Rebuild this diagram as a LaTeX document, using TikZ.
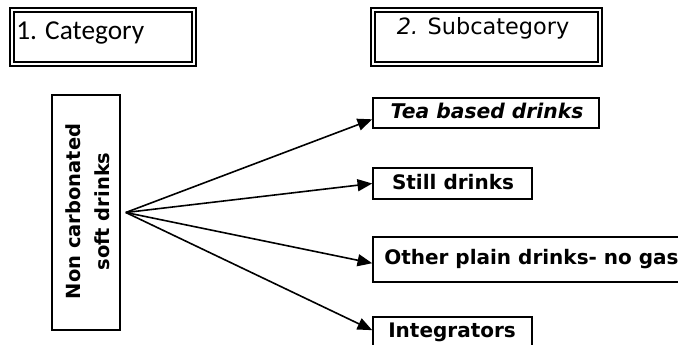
\documentclass[tikz,border=0pt]{standalone}
\usepackage{fontspec}
\setmainfont{DejaVu Sans}
\newfontfamily\calibri{Carlito}
\usetikzlibrary{arrows.meta,calc}

\begin{document}
\begin{tikzpicture}[x=0.75pt,y=-0.75pt,
  dbox/.style={draw, line width=1.3pt, double, double distance=2.2pt, inner sep=0pt},
  sbox/.style={draw, line width=1.2pt, inner sep=0pt},
  lbl/.style={inner sep=0pt, font=\fontsize{15}{18}\selectfont\bfseries},
  link/.style={line width=1.2pt, -{Triangle[length=11pt,width=9pt]}}
]
\useasboundingbox (0,0) rectangle (678,345);
\clip (0,0) rectangle (678,345);

% column headings
\node[dbox, minimum width=182*0.75pt, minimum height=54*0.75pt] (cat) at (103,37) {};
\node[anchor=base west, inner sep=0pt, font=\calibri\fontsize{20.5}{24}\selectfont] (cattext) at (16,40) {1. Category};
\node[dbox, minimum width=227*0.75pt, minimum height=54*0.75pt] (sub) at (486.5,37) {};
\node[anchor=base, inner sep=0pt, font=\fontsize{16.8}{20}\selectfont] (subtext) at (483,35) {\textit{2.} Subcategory};

% category box
\node[sbox, minimum width=68*0.75pt, minimum height=235*0.75pt] (ncsd) at (86,212.5) {};
\node[rotate=90, align=center, inner sep=0pt, font=\fontsize{14.6}{21.75}\selectfont\bfseries] (ncsdtext) at (87.5,211.5) {Non carbonated\\soft drinks};

% subcategory boxes
\node[sbox, minimum width=226*0.75pt, minimum height=30*0.75pt] (tea) at (486,113) {};
\node[lbl, anchor=base, font=\fontsize{15.2}{18}\selectfont\bfseries\itshape] (teatext) at (487,119) {Tea based drinks};
\node[sbox, minimum width=159*0.75pt, minimum height=31*0.75pt] (still) at (452.5,183.5) {};
\node[lbl, anchor=base] (stilltext) at (453,190) {Still drinks};
\node[sbox, minimum width=327*0.75pt, minimum height=45*0.75pt] (other) at (536.5,259.5) {};
\node[lbl, anchor=base west] (othertext) at (384,265) {Other plain drinks- no gas};
\node[sbox, minimum width=159*0.75pt, minimum height=45*0.75pt] (integ) at (452.5,339.5) {};
\node[lbl, anchor=base west] (integtext) at (388,337) {Integrators};

% connectors fanning out from one point
\coordinate (fan) at ($(ncsd.east)+(5,0)$);
\draw[link] (fan) -- ($(tea.south west)!0.3!(tea.north west)$);
\draw[link] (fan) -- (still.west);
\draw[link] (fan) -- ($(other.south west)!0.42!(other.north west)$);
\draw[link] (fan) -- ($(integ.north west)!0.3!(integ.south west)$);
\end{tikzpicture}
\end{document}
